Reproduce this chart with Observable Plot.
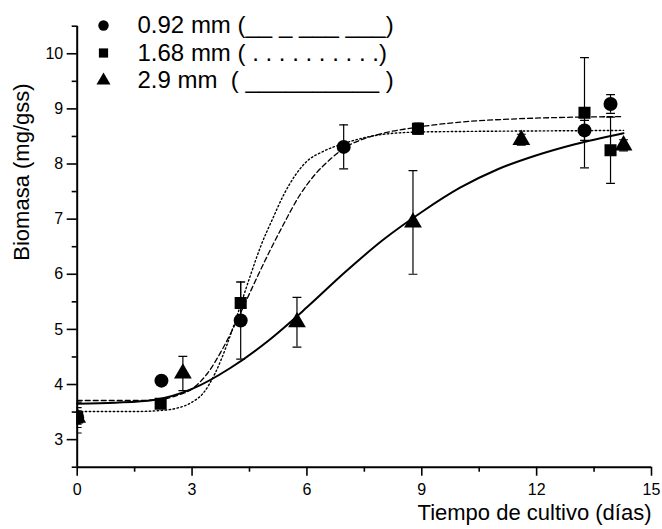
<!DOCTYPE html>
<html>
<head>
<meta charset="utf-8">
<script src="https://cdn.jsdelivr.net/npm/d3@7"></script>
<script src="https://cdn.jsdelivr.net/npm/@observablehq/plot@0.6"></script>
<style>
  body { margin: 0; background: #fff; }
  #chart svg { font-family: "Liberation Sans", Arial, sans-serif; display: block; }
</style>
</head>
<body>
<div id="chart"></div>
<script>
// Axis ticks
const xTicks = [0, 3, 6, 9, 12, 15];
const xMinorTicks = [1.5, 4.5, 7.5, 10.5, 13.5];
const yTicks = [3, 4, 5, 6, 7, 8, 9, 10];
const yMinorTicks = [2.5, 3.5, 4.5, 5.5, 6.5, 7.5, 8.5, 9.5, 10.5];

// Legend entries (particle size and line style of the fitted curve)
const legendLabels = [
  "0.92 mm (__ _ ___ ___)",
  "1.68 mm ( . . . . . . . . . .)",
  "2.9 mm\u00a0\u00a0( __________ )"
];
const legendSymbols = ["circle", "square", "triangle"];

// Measured biomass (mg/gss) with standard deviation, per particle size
const dias092 = [0, 2.2, 4.27, 6.96, 13.25, 13.93];
const biomasa092 = [3.4, 4.07, 5.16, 8.31, 8.61, 9.09];
const error092 = [0.18, 0, 0.7, 0.4, 0.18, 0.17];

const dias168 = [0, 2.18, 4.27, 8.9, 13.25, 13.93];
const biomasa168 = [3.4, 3.65, 5.48, 8.64, 8.93, 8.25];
const error168 = [0.28, 0, 0.38, 0.1, 1.0, 0.6];

const dias29 = [0, 2.76, 5.74, 8.77, 11.6, 14.27];
const biomasa29 = [3.4, 4.2, 5.13, 6.94, 8.44, 8.34];
const error29 = [0.12, 0.31, 0.45, 0.94, 0.1, 0.1];

// Fitted growth curves
const ajusteX092 = [0, 1.5, 2.2, 2.6, 3.0, 3.4, 3.8, 4.2, 4.6, 5.0, 5.4, 5.8, 6.2, 6.6, 7.0, 7.5, 8.0, 8.9, 10.0, 11.5, 13.0, 14.27];
const ajusteY092 = [3.71, 3.71, 3.73, 3.8, 3.92, 4.2, 4.65, 5.2, 5.8, 6.38, 6.92, 7.42, 7.8, 8.08, 8.3, 8.46, 8.56, 8.67, 8.76, 8.82, 8.85, 8.86];

const ajusteX168 = [0, 1.5, 2.2, 2.6, 3.0, 3.3, 3.6, 3.9, 4.2, 4.5, 4.8, 5.1, 5.4, 5.7, 6.0, 6.4, 7.0, 7.9, 8.9, 10.0, 12.0, 14.27];
const ajusteY168 = [3.51, 3.51, 3.53, 3.57, 3.68, 3.85, 4.2, 4.7, 5.3, 5.93, 6.52, 7.0, 7.45, 7.8, 8.05, 8.22, 8.38, 8.53, 8.58, 8.59, 8.6, 8.61];

const ajusteX29 = [0, 1, 2, 3, 4, 5, 6, 7, 8, 9, 10, 11, 12, 13, 14.27];
const ajusteY29 = [3.65, 3.67, 3.72, 3.92, 4.3, 4.8, 5.4, 6.04, 6.63, 7.13, 7.57, 7.91, 8.16, 8.36, 8.56];

// Build tables
const toPoints = (xs, ys, es) => xs.map((x, i) => ({x, y: ys[i], e: es[i]}));
const series = [
  {symbol: "circle", r: 7, points: toPoints(dias092, biomasa092, error092)},
  {symbol: "square", r: 6.8, points: toPoints(dias168, biomasa168, error168)},
  {symbol: "triangle", r: 6.6, points: toPoints(dias29, biomasa29, error29)}
];
const conError = series.flatMap(s => s.points).filter(d => d.e > 0);
const toCurve = (xs, ys) => xs.map((x, i) => ({x, y: ys[i]}));

// Horizontal cap drawn as a symbol so its width stays in pixels
const cap = {draw(ctx, size) { const w = Math.sqrt(size) / 2; ctx.moveTo(-w, 0); ctx.lineTo(w, 0); }};

const legendMarks = legendLabels.flatMap((label, i) => [
  Plot.dot([label], {frameAnchor: "top-left", dx: 26.3, dy: -0.7 + i * 27.5, symbol: legendSymbols[i], r: 5.2, fill: "black", stroke: "none"}),
  Plot.text([label], {frameAnchor: "top-left", dx: 60.3, dy: -0.7 + i * 27.5, text: d => d, textAnchor: "start", lineAnchor: "middle", fontSize: 24, fill: "black"})
]);

const chart = Plot.plot({
  width: 662,
  height: 529,
  marginLeft: 76.7,
  marginRight: 11,
  marginTop: 25.7,
  marginBottom: 62.3,
  style: {fontFamily: "Liberation Sans, Arial, sans-serif", fontSize: "16px", background: "#fff", color: "black"},
  x: {domain: [0, 15]},
  y: {domain: [2.5, 10.5]},
  marks: [
    // axes
    Plot.axisX({ticks: xTicks, tickSize: 9, tickPadding: 7, fontSize: 16, strokeWidth: 1.6, label: null}),
    Plot.axisX({ticks: xMinorTicks, tickSize: 5, text: null, strokeWidth: 1.6, label: null}),
    Plot.axisY({ticks: yTicks, tickSize: 10, tickPadding: 4, fontSize: 16, strokeWidth: 1.6, label: null}),
    Plot.axisY({ticks: yMinorTicks, tickSize: 5, text: null, strokeWidth: 1.6, label: null}),
    Plot.ruleX([0], {strokeWidth: 2}),
    Plot.ruleY([2.5], {strokeWidth: 2}),
    // axis titles
    Plot.text(["Biomasa (mg/gss)"], {frameAnchor: "left", dx: -55, dy: 14, rotate: -90, text: d => d, fontSize: 22, lineAnchor: "middle"}),
    Plot.text(["Tiempo de cultivo (días)"], {frameAnchor: "bottom-right", dx: 0, dy: 46, text: d => d, fontSize: 22, textAnchor: "end", lineAnchor: "middle"}),
    // fitted curves
    Plot.line(toCurve(ajusteX092, ajusteY092), {x: "x", y: "y", curve: "monotone-x", stroke: "black", strokeWidth: 1.3, strokeDasharray: "5,3"}),
    Plot.line(toCurve(ajusteX168, ajusteY168), {x: "x", y: "y", curve: "monotone-x", stroke: "black", strokeWidth: 1.4, strokeDasharray: "1.5,2.5"}),
    Plot.line(toCurve(ajusteX29, ajusteY29), {x: "x", y: "y", curve: "monotone-x", stroke: "black", strokeWidth: 2}),
    // error bars
    Plot.ruleX(conError, {x: "x", y1: d => d.y - d.e, y2: d => d.y + d.e, stroke: "black", strokeWidth: 1.2, clip: true}),
    Plot.dot(conError, {x: "x", y: d => d.y + d.e, symbol: cap, r: 5, stroke: "black", strokeWidth: 1.2, fill: "none", clip: true}),
    Plot.dot(conError, {x: "x", y: d => d.y - d.e, symbol: cap, r: 5, stroke: "black", strokeWidth: 1.2, fill: "none", clip: true}),
    // measured points, one mark per particle size
    ...series.map(s => Plot.dot(s.points, {x: "x", y: "y", symbol: s.symbol, r: s.r, fill: "black", stroke: "none", clip: true})),
    // legend
    ...legendMarks
  ]
});

document.getElementById("chart").appendChild(chart);
</script>
</body>
</html>
